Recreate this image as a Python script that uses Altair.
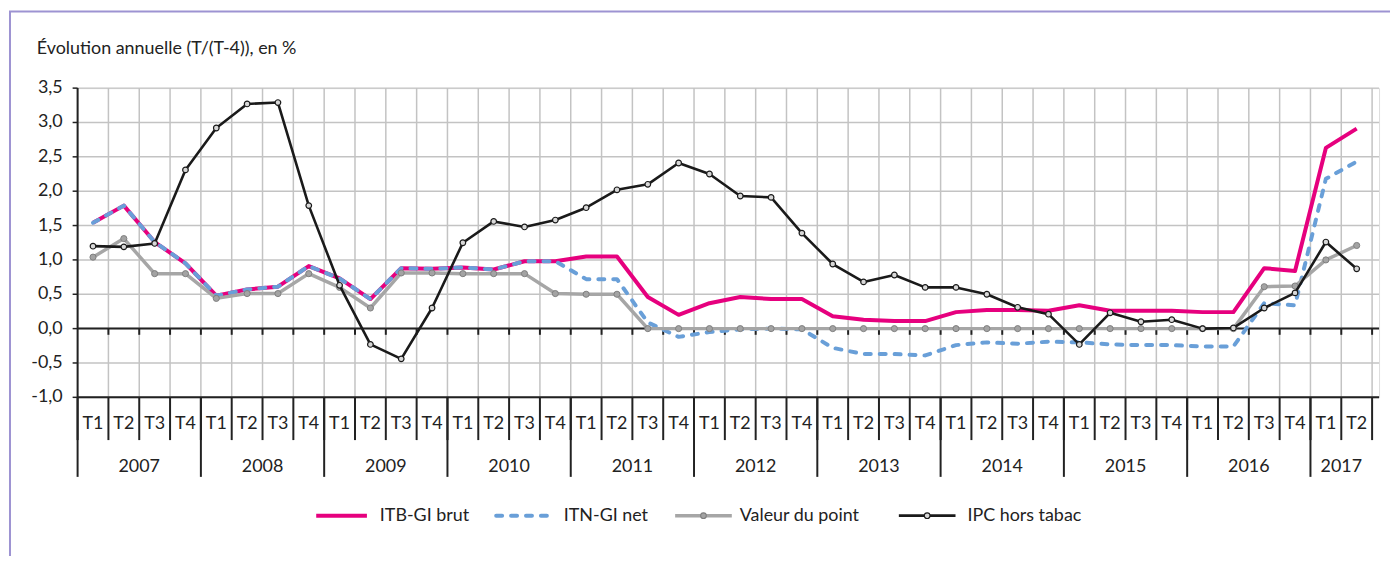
import altair as alt
import pandas as pd

# ---------------- data ----------------
quarters = ["T1", "T2", "T3", "T4"] * 10 + ["T1", "T2"]
years = ["2007", "2008", "2009", "2010", "2011", "2012", "2013", "2014", "2015", "2016", "2017"]

itb_gi_brut = [1.54, 1.79, 1.26, 0.95, 0.48, 0.57, 0.61, 0.91, 0.73, 0.43, 0.88, 0.87,
               0.89, 0.86, 0.98, 0.98, 1.05, 1.05, 0.46, 0.20, 0.37, 0.46, 0.43, 0.43,
               0.18, 0.13, 0.11, 0.11, 0.24, 0.27, 0.27, 0.26, 0.34, 0.26, 0.26, 0.26,
               0.24, 0.24, 0.88, 0.84, 2.63, 2.91]
itn_gi_net = [1.54, 1.79, 1.26, 0.95, 0.48, 0.57, 0.61, 0.91, 0.73, 0.43, 0.88, 0.87,
              0.89, 0.86, 0.98, 0.98, 0.72, 0.72, 0.09, -0.12, -0.05, -0.01, 0.00, -0.01,
              -0.28, -0.37, -0.37, -0.39, -0.24, -0.20, -0.22, -0.19, -0.20, -0.23, -0.24, -0.24,
              -0.26, -0.26, 0.37, 0.34, 2.18, 2.43]
valeur_point = [1.04, 1.31, 0.80, 0.80, 0.44, 0.51, 0.51, 0.80, 0.60, 0.30, 0.81, 0.81,
                0.80, 0.80, 0.80, 0.51, 0.50, 0.50, 0.00, 0.00, 0.00, 0.00, 0.00, 0.00,
                0.00, 0.00, 0.00, 0.00, 0.00, 0.00, 0.00, 0.00, 0.00, 0.00, 0.00, 0.00,
                0.00, 0.00, 0.61, 0.62, 1.00, 1.21]
ipc_hors_tabac = [1.20, 1.19, 1.24, 2.31, 2.92, 3.27, 3.29, 1.79, 0.63, -0.23, -0.44, 0.30,
                  1.25, 1.56, 1.48, 1.58, 1.76, 2.02, 2.10, 2.41, 2.25, 1.93, 1.91, 1.39,
                  0.94, 0.68, 0.78, 0.60, 0.60, 0.50, 0.31, 0.21, -0.23, 0.23, 0.10, 0.13,
                  0.00, 0.01, 0.30, 0.52, 1.26, 0.87]

series_names = ["ITB-GI brut", "ITN-GI net", "Valeur du point", "IPC hors tabac"]
y_ticks = [-1.0, -0.5, 0.0, 0.5, 1.0, 1.5, 2.0, 2.5, 3.0, 3.5]
y_tick_labels = ["-1,0", "-0,5", "0,0", "0,5", "1,0", "1,5", "2,0", "2,5", "3,0", "3,5"]
title_text = "Évolution annuelle (T/(T-4)), en %"

# ---------------- tables ----------------
n = len(quarters)
idx = list(range(n))
df = pd.DataFrame({
    "i": idx,
    "q": quarters,
    "itb": itb_gi_brut,
    "itn": itn_gi_net,
    "vp": valeur_point,
    "ipc": ipc_hors_tabac,
})
tdf = pd.DataFrame({"v": y_ticks, "lab": y_tick_labels})
bounds = pd.DataFrame({"b": [k + 0.5 for k in range(n)]})
all_bounds = pd.DataFrame({"b": [k - 0.5 for k in range(n + 1)]})
year_rows = []
for k, yname in enumerate(years):
    members = [j for j in idx if j // 4 == k]
    year_rows.append({"year": yname, "c": sum(members) / len(members), "start": members[0] - 0.5})
ydf = pd.DataFrame(year_rows)

FONT = "Lato"
FS = 18
INK = "#222222"
GRID = "#c3c3c3"
W, H = 1309, 311
xscale = alt.Scale(domain=[-0.5, n - 0.5 + 7 / 31], nice=False, zero=False)
yscale = alt.Scale(domain=[-1.0, 3.5], nice=False, zero=False)

one = alt.Data(values=[{"a": 1}])

X = lambda f: alt.X(f, type="quantitative", scale=xscale, axis=None)
Y = lambda f: alt.Y(f, type="quantitative", scale=yscale, axis=None)

# border
border = alt.Chart(one).mark_rect(fill="transparent", stroke="#9d93d2", strokeWidth=2).encode(
    x=alt.value(-68), x2=alt.value(1400), y=alt.value(-77), y2=alt.value(600))

# gridlines
vgrid = alt.Chart(bounds).mark_rule(color=GRID, strokeWidth=1.5).encode(
    x=X("b"), y=alt.value(0), y2=alt.value(H))
hgrid = alt.Chart(tdf).mark_rule(color=GRID, strokeWidth=1.5).encode(
    x=alt.value(0), x2=alt.value(W), y=Y("v"))

# y axis drawn by hand
y_domain = alt.Chart(one).mark_rule(color=INK, strokeWidth=2).encode(
    x=alt.value(0), y=alt.value(0), y2=alt.value(H))
y_tickmarks = alt.Chart(tdf).mark_rule(color=INK, strokeWidth=1.5).encode(
    x=alt.value(-5), x2=alt.value(0), y=Y("v"))
y_labels = alt.Chart(tdf).mark_text(font=FONT, fontSize=FS, color=INK, align="right",
                                    baseline="middle").encode(
    x=alt.value(-15), y=Y("v"), text="lab:N")

# zero line and bottom line
zero_line = alt.Chart(one).mark_rule(color=INK, strokeWidth=2).encode(
    x=alt.value(0), x2=alt.value(W), y=alt.Y(datum=0, scale=yscale, axis=None))
bottom_line = alt.Chart(one).mark_rule(color=INK, strokeWidth=2).encode(
    x=alt.value(0), x2=alt.value(W), y=alt.value(H))
zero_ticks = alt.Chart(bounds).mark_rule(color=INK, strokeWidth=2).encode(
    x=X("b"), y=alt.Y(datum=0, scale=yscale, axis=None), y2=alt.Y2(datum=-0.09))

# series
l_itb = alt.Chart(df).mark_line(color="#e6007e", strokeWidth=4, strokeJoin="round").encode(
    x=X("i"), y=Y("itb"))
l_itn = alt.Chart(df).mark_line(color="#699fd8", strokeWidth=4, strokeDash=[6, 9],
                                strokeCap="round", strokeJoin="round").encode(
    x=X("i"), y=Y("itn"))
l_vp = alt.Chart(df).mark_line(color="#a6a6a6", strokeWidth=3.5, strokeJoin="round").encode(
    x=X("i"), y=Y("vp"))
p_vp = alt.Chart(df).mark_point(shape="circle", filled=True, fill="#a3a3a3", stroke="#7f7f7f",
                                strokeWidth=1, size=38, opacity=1).encode(
    x=X("i"), y=Y("vp"))
l_ipc = alt.Chart(df).mark_line(color="#1a1a1a", strokeWidth=2.6, strokeJoin="round").encode(
    x=X("i"), y=Y("ipc"))
p_ipc = alt.Chart(df).mark_point(shape="circle", filled=True, fill="#d8d8d8", stroke="#1a1a1a",
                                 strokeWidth=1.2, size=32, opacity=1).encode(
    x=X("i"), y=Y("ipc"))

# category axis below
q_sep = alt.Chart(all_bounds).mark_rule(color=INK, strokeWidth=2).encode(
    x=X("b"), y=alt.value(H), y2=alt.value(354))
y_sep = alt.Chart(ydf).mark_rule(color=INK, strokeWidth=2).encode(
    x=X("start"), y=alt.value(H), y2=alt.value(391))
q_lab = alt.Chart(df).mark_text(font=FONT, fontSize=FS, color=INK, baseline="middle").encode(
    x=X("i"), y=alt.value(338), text="q:N")
y_lab = alt.Chart(ydf).mark_text(font=FONT, fontSize=FS, color=INK, baseline="middle").encode(
    x=X("c"), y=alt.value(381), text="year:N")

# title
title = alt.Chart(one).mark_text(text=title_text, font=FONT, fontSize=FS, color=INK,
                                 align="left", baseline="middle").encode(
    x=alt.value(-41), y=alt.value(-39))

# legend (manual)
LY = 430
leg_items = [
    # name, x1, x2, text x, color, width, dash, marker
    (series_names[0], 240, 291, 304, "#e6007e", 4, None, None),
    (series_names[1], 421, 481, 489, "#699fd8", 4, [6, 9], None),
    (series_names[2], 601, 658, 666, "#a6a6a6", 3.5, None, ("#a3a3a3", "#7f7f7f")),
    (series_names[3], 826, 883, 895, "#1a1a1a", 2.6, None, ("#d8d8d8", "#1a1a1a")),
]
leg_layers = []
for name, x1, x2, xt, col, sw, dash, marker in leg_items:
    kw = dict(color=col, strokeWidth=sw)
    if dash:
        kw.update(strokeDash=dash, strokeCap="round")
    leg_layers.append(alt.Chart(one).mark_rule(**kw).encode(
        x=alt.value(x1), x2=alt.value(x2), y=alt.value(LY)))
    if marker:
        leg_layers.append(alt.Chart(one).mark_point(shape="circle", filled=True, fill=marker[0],
                                                    stroke=marker[1], strokeWidth=1.1, size=32,
                                                    opacity=1).encode(
            x=alt.value((x1 + x2) / 2), y=alt.value(LY)))
    leg_layers.append(alt.Chart(one).mark_text(text=name, font=FONT, fontSize=FS, color=INK,
                                               align="left", baseline="middle").encode(
        x=alt.value(xt), y=alt.value(LY)))

chart = alt.layer(
    border, vgrid, hgrid, zero_line, bottom_line, zero_ticks, y_domain, y_tickmarks, y_labels,
    l_itb, l_itn, l_vp, p_vp, l_ipc, p_ipc,
    q_sep, y_sep, q_lab, y_lab, title, *leg_layers
).properties(
    width=W, height=H,
    autosize=alt.AutoSizeParams(type="none"),
    padding={"left": 70, "top": 79, "right": 11, "bottom": 158},
).configure_view(stroke=None, clip=False).configure(background="white")

chart.save("out.html", embed_options={"renderer": "svg", "actions": False})
